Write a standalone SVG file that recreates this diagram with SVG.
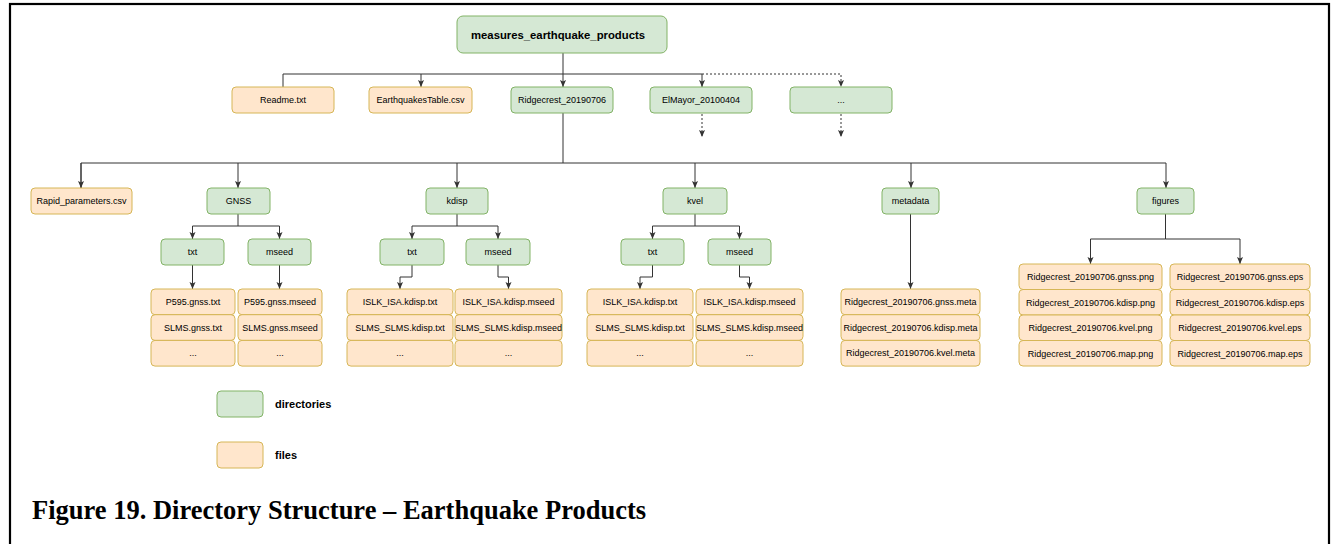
<svg xmlns="http://www.w3.org/2000/svg" width="1332" height="544" viewBox="0 0 1332 544">
<style>
.d{fill:#d5e8d4;stroke:#82b366;stroke-width:1}
.f{fill:#ffe6cc;stroke:#d6b656;stroke-width:1}
text{font-family:"Liberation Sans",Arial,Helvetica,sans-serif;font-size:9px;fill:#000;text-anchor:middle}
.b{font-weight:bold}
.c path{fill:none;stroke:#333;stroke-width:1}
.c .ds{stroke-dasharray:2 2}
.cap{font-family:"Liberation Serif","Times New Roman",serif;font-weight:bold;font-size:26.5px;text-anchor:start}
.lg{font-weight:bold;font-size:11px;text-anchor:start}
</style>
<defs>
<marker id="a" markerUnits="userSpaceOnUse" markerWidth="8" markerHeight="8" refX="7" refY="4" orient="auto">
<path d="M0,1 L7,4 L0,7 L1.5,4 Z" fill="#333"/>
</marker>
</defs>
<rect x="10" y="4" width="1319" height="620" fill="#fff" stroke="#000" stroke-width="2.2"/>

<g class="c" id="connectors">
<path d="M563,53 V87" marker-end="url(#a)"/>
<path d="M283,87 V74 H702 V87" marker-end="url(#a)"/>
<path d="M421,74 V87" marker-end="url(#a)"/>
<path class="ds" d="M702,74 H841 V87" marker-end="url(#a)"/>
<path class="ds" d="M702,114 V137" marker-end="url(#a)"/>
<path class="ds" d="M841,114 V137" marker-end="url(#a)"/>
<path d="M563,113 V163"/>
<path d="M81,188 V163 H1166 V188" marker-end="url(#a)"/>
<path d="M81,163 V188" marker-end="url(#a)"/>
<path d="M238,163 V188" marker-end="url(#a)"/>
<path d="M457,163 V188" marker-end="url(#a)"/>
<path d="M695,163 V188" marker-end="url(#a)"/>
<path d="M911,163 V188" marker-end="url(#a)"/>
<path d="M238,214 V226 H192.5 V239" marker-end="url(#a)"/>
<path d="M238,226 H279.5 V239" marker-end="url(#a)"/>
<path d="M457,214 V226 H412 V239" marker-end="url(#a)"/>
<path d="M457,226 H498 V239" marker-end="url(#a)"/>
<path d="M695,214 V226 H652.5 V239" marker-end="url(#a)"/>
<path d="M695,226 H739.5 V239" marker-end="url(#a)"/>
<path d="M192.5,265 V289" marker-end="url(#a)"/>
<path d="M279.5,265 V289" marker-end="url(#a)"/>
<path d="M412,265 V277 H400 V289" marker-end="url(#a)"/>
<path d="M498,265 V277 H508.5 V289" marker-end="url(#a)"/>
<path d="M652.5,265 V277 H640 V289" marker-end="url(#a)"/>
<path d="M739.5,265 V277 H749.5 V289" marker-end="url(#a)"/>
<path d="M910.5,214 V289" marker-end="url(#a)"/>
<path d="M1165.5,214 V239 H1090.5 V264" marker-end="url(#a)"/>
<path d="M1165.5,239 H1240 V264" marker-end="url(#a)"/>
</g>

<g id="root"><rect class="d" x="457" y="16" width="210" height="37" rx="6"/><text class="b" x="558" y="39" style="font-size:11.3px">measures_earthquake_products</text></g>

<g id="readme"><rect class="f" x="232" y="87" width="102" height="26" rx="4"/><text x="283" y="103">Readme.txt</text></g>
<g id="eqtable"><rect class="f" x="369" y="87" width="103" height="26" rx="4"/><text x="420.5" y="103">EarthquakesTable.csv</text></g>
<g id="ridgecrest"><rect class="d" x="511" y="87" width="102" height="26" rx="4"/><text x="562" y="103">Ridgecrest_20190706</text></g>
<g id="elmayor"><rect class="d" x="650" y="87" width="102" height="26" rx="4"/><text x="701" y="103">ElMayor_20100404</text></g>
<g id="more"><rect class="d" x="790" y="87" width="102" height="26" rx="4"/><text x="841" y="103" fill="#666">...</text></g>

<g id="rapid"><rect class="f" x="31" y="188" width="101" height="26" rx="4"/><text x="81.5" y="204">Rapid_parameters.csv</text></g>
<g id="gnss"><rect class="d" x="207" y="188" width="63" height="26" rx="4"/><text x="238.5" y="204">GNSS</text></g>
<g id="kdisp"><rect class="d" x="426" y="188" width="62" height="26" rx="4"/><text x="457" y="204">kdisp</text></g>
<g id="kvel"><rect class="d" x="663" y="188" width="64" height="26" rx="4"/><text x="695" y="204">kvel</text></g>
<g id="metadata"><rect class="d" x="882" y="188" width="57" height="26" rx="4"/><text x="910.5" y="204">metadata</text></g>
<g id="figures"><rect class="d" x="1137" y="188" width="57" height="26" rx="4"/><text x="1165.5" y="204">figures</text></g>

<g id="gnss-txt"><rect class="d" x="161" y="239" width="63" height="26" rx="4"/><text x="192.5" y="255">txt</text></g>
<g id="gnss-mseed"><rect class="d" x="248" y="239" width="63" height="26" rx="4"/><text x="279.5" y="255">mseed</text></g>
<g id="kdisp-txt"><rect class="d" x="380" y="239" width="64" height="26" rx="4"/><text x="412" y="255">txt</text></g>
<g id="kdisp-mseed"><rect class="d" x="466" y="239" width="64" height="26" rx="4"/><text x="498" y="255">mseed</text></g>
<g id="kvel-txt"><rect class="d" x="621" y="239" width="63" height="26" rx="4"/><text x="652.5" y="255">txt</text></g>
<g id="kvel-mseed"><rect class="d" x="708" y="239" width="63" height="26" rx="4"/><text x="739.5" y="255">mseed</text></g>

<g id="gnss-txt-files">
<rect class="f" x="151" y="289" width="84" height="25.7" rx="4"/><text x="193" y="305">P595.gnss.txt</text>
<rect class="f" x="151" y="314.7" width="84" height="25.7" rx="4"/><text x="193" y="330.7">SLMS.gnss.txt</text>
<rect class="f" x="151" y="340.4" width="84" height="25.7" rx="4"/><text x="193" y="356.4">...</text>
</g>
<g id="gnss-mseed-files">
<rect class="f" x="238" y="289" width="84" height="25.7" rx="4"/><text x="280" y="305">P595.gnss.mseed</text>
<rect class="f" x="238" y="314.7" width="84" height="25.7" rx="4"/><text x="280" y="330.7">SLMS.gnss.mseed</text>
<rect class="f" x="238" y="340.4" width="84" height="25.7" rx="4"/><text x="280" y="356.4">...</text>
</g>
<g id="kdisp-txt-files">
<rect class="f" x="347" y="289" width="106" height="25.7" rx="4"/><text x="400" y="305">ISLK_ISA.kdisp.txt</text>
<rect class="f" x="347" y="314.7" width="106" height="25.7" rx="4"/><text x="400" y="330.7">SLMS_SLMS.kdisp.txt</text>
<rect class="f" x="347" y="340.4" width="106" height="25.7" rx="4"/><text x="400" y="356.4">...</text>
</g>
<g id="kdisp-mseed-files">
<rect class="f" x="455" y="289" width="107" height="25.7" rx="4"/><text x="508.5" y="305">ISLK_ISA.kdisp.mseed</text>
<rect class="f" x="455" y="314.7" width="107" height="25.7" rx="4"/><text x="508.5" y="330.7">SLMS_SLMS.kdisp.mseed</text>
<rect class="f" x="455" y="340.4" width="107" height="25.7" rx="4"/><text x="508.5" y="356.4">...</text>
</g>
<g id="kvel-txt-files">
<rect class="f" x="587" y="289" width="106" height="25.7" rx="4"/><text x="640" y="305">ISLK_ISA.kdisp.txt</text>
<rect class="f" x="587" y="314.7" width="106" height="25.7" rx="4"/><text x="640" y="330.7">SLMS_SLMS.kdisp.txt</text>
<rect class="f" x="587" y="340.4" width="106" height="25.7" rx="4"/><text x="640" y="356.4">...</text>
</g>
<g id="kvel-mseed-files">
<rect class="f" x="696" y="289" width="107" height="25.7" rx="4"/><text x="749.5" y="305">ISLK_ISA.kdisp.mseed</text>
<rect class="f" x="696" y="314.7" width="107" height="25.7" rx="4"/><text x="749.5" y="330.7">SLMS_SLMS.kdisp.mseed</text>
<rect class="f" x="696" y="340.4" width="107" height="25.7" rx="4"/><text x="749.5" y="356.4">...</text>
</g>
<g id="metadata-files">
<rect class="f" x="841" y="289" width="139" height="25.7" rx="4"/><text x="910.5" y="305">Ridgecrest_20190706.gnss.meta</text>
<rect class="f" x="841" y="314.7" width="139" height="25.7" rx="4"/><text x="910.5" y="330.7">Ridgecrest_20190706.kdisp.meta</text>
<rect class="f" x="841" y="340.4" width="139" height="25.7" rx="4"/><text x="910.5" y="356.4">Ridgecrest_20190706.kvel.meta</text>
</g>
<g id="png-files">
<rect class="f" x="1019" y="264" width="143" height="25.5" rx="4"/><text x="1090.5" y="280">Ridgecrest_20190706.gnss.png</text>
<rect class="f" x="1019" y="289.5" width="143" height="25.5" rx="4"/><text x="1090.5" y="305.5">Ridgecrest_20190706.kdisp.png</text>
<rect class="f" x="1019" y="315" width="143" height="25.5" rx="4"/><text x="1090.5" y="331">Ridgecrest_20190706.kvel.png</text>
<rect class="f" x="1019" y="340.5" width="143" height="25.5" rx="4"/><text x="1090.5" y="356.5">Ridgecrest_20190706.map.png</text>
</g>
<g id="eps-files">
<rect class="f" x="1170" y="264" width="140" height="25.5" rx="4"/><text x="1240" y="280">Ridgecrest_20190706.gnss.eps</text>
<rect class="f" x="1170" y="289.5" width="140" height="25.5" rx="4"/><text x="1240" y="305.5">Ridgecrest_20190706.kdisp.eps</text>
<rect class="f" x="1170" y="315" width="140" height="25.5" rx="4"/><text x="1240" y="331">Ridgecrest_20190706.kvel.eps</text>
<rect class="f" x="1170" y="340.5" width="140" height="25.5" rx="4"/><text x="1240" y="356.5">Ridgecrest_20190706.map.eps</text>
</g>

<g id="legend-dir"><rect class="d" x="217" y="391" width="46" height="26" rx="4"/><text class="lg" x="275" y="408">directories</text></g>
<g id="legend-files"><rect class="f" x="217" y="442" width="46" height="26" rx="4"/><text class="lg" x="275" y="459">files</text></g>

<text class="cap" x="32" y="519">Figure 19. Directory Structure – Earthquake Products</text>
</svg>
